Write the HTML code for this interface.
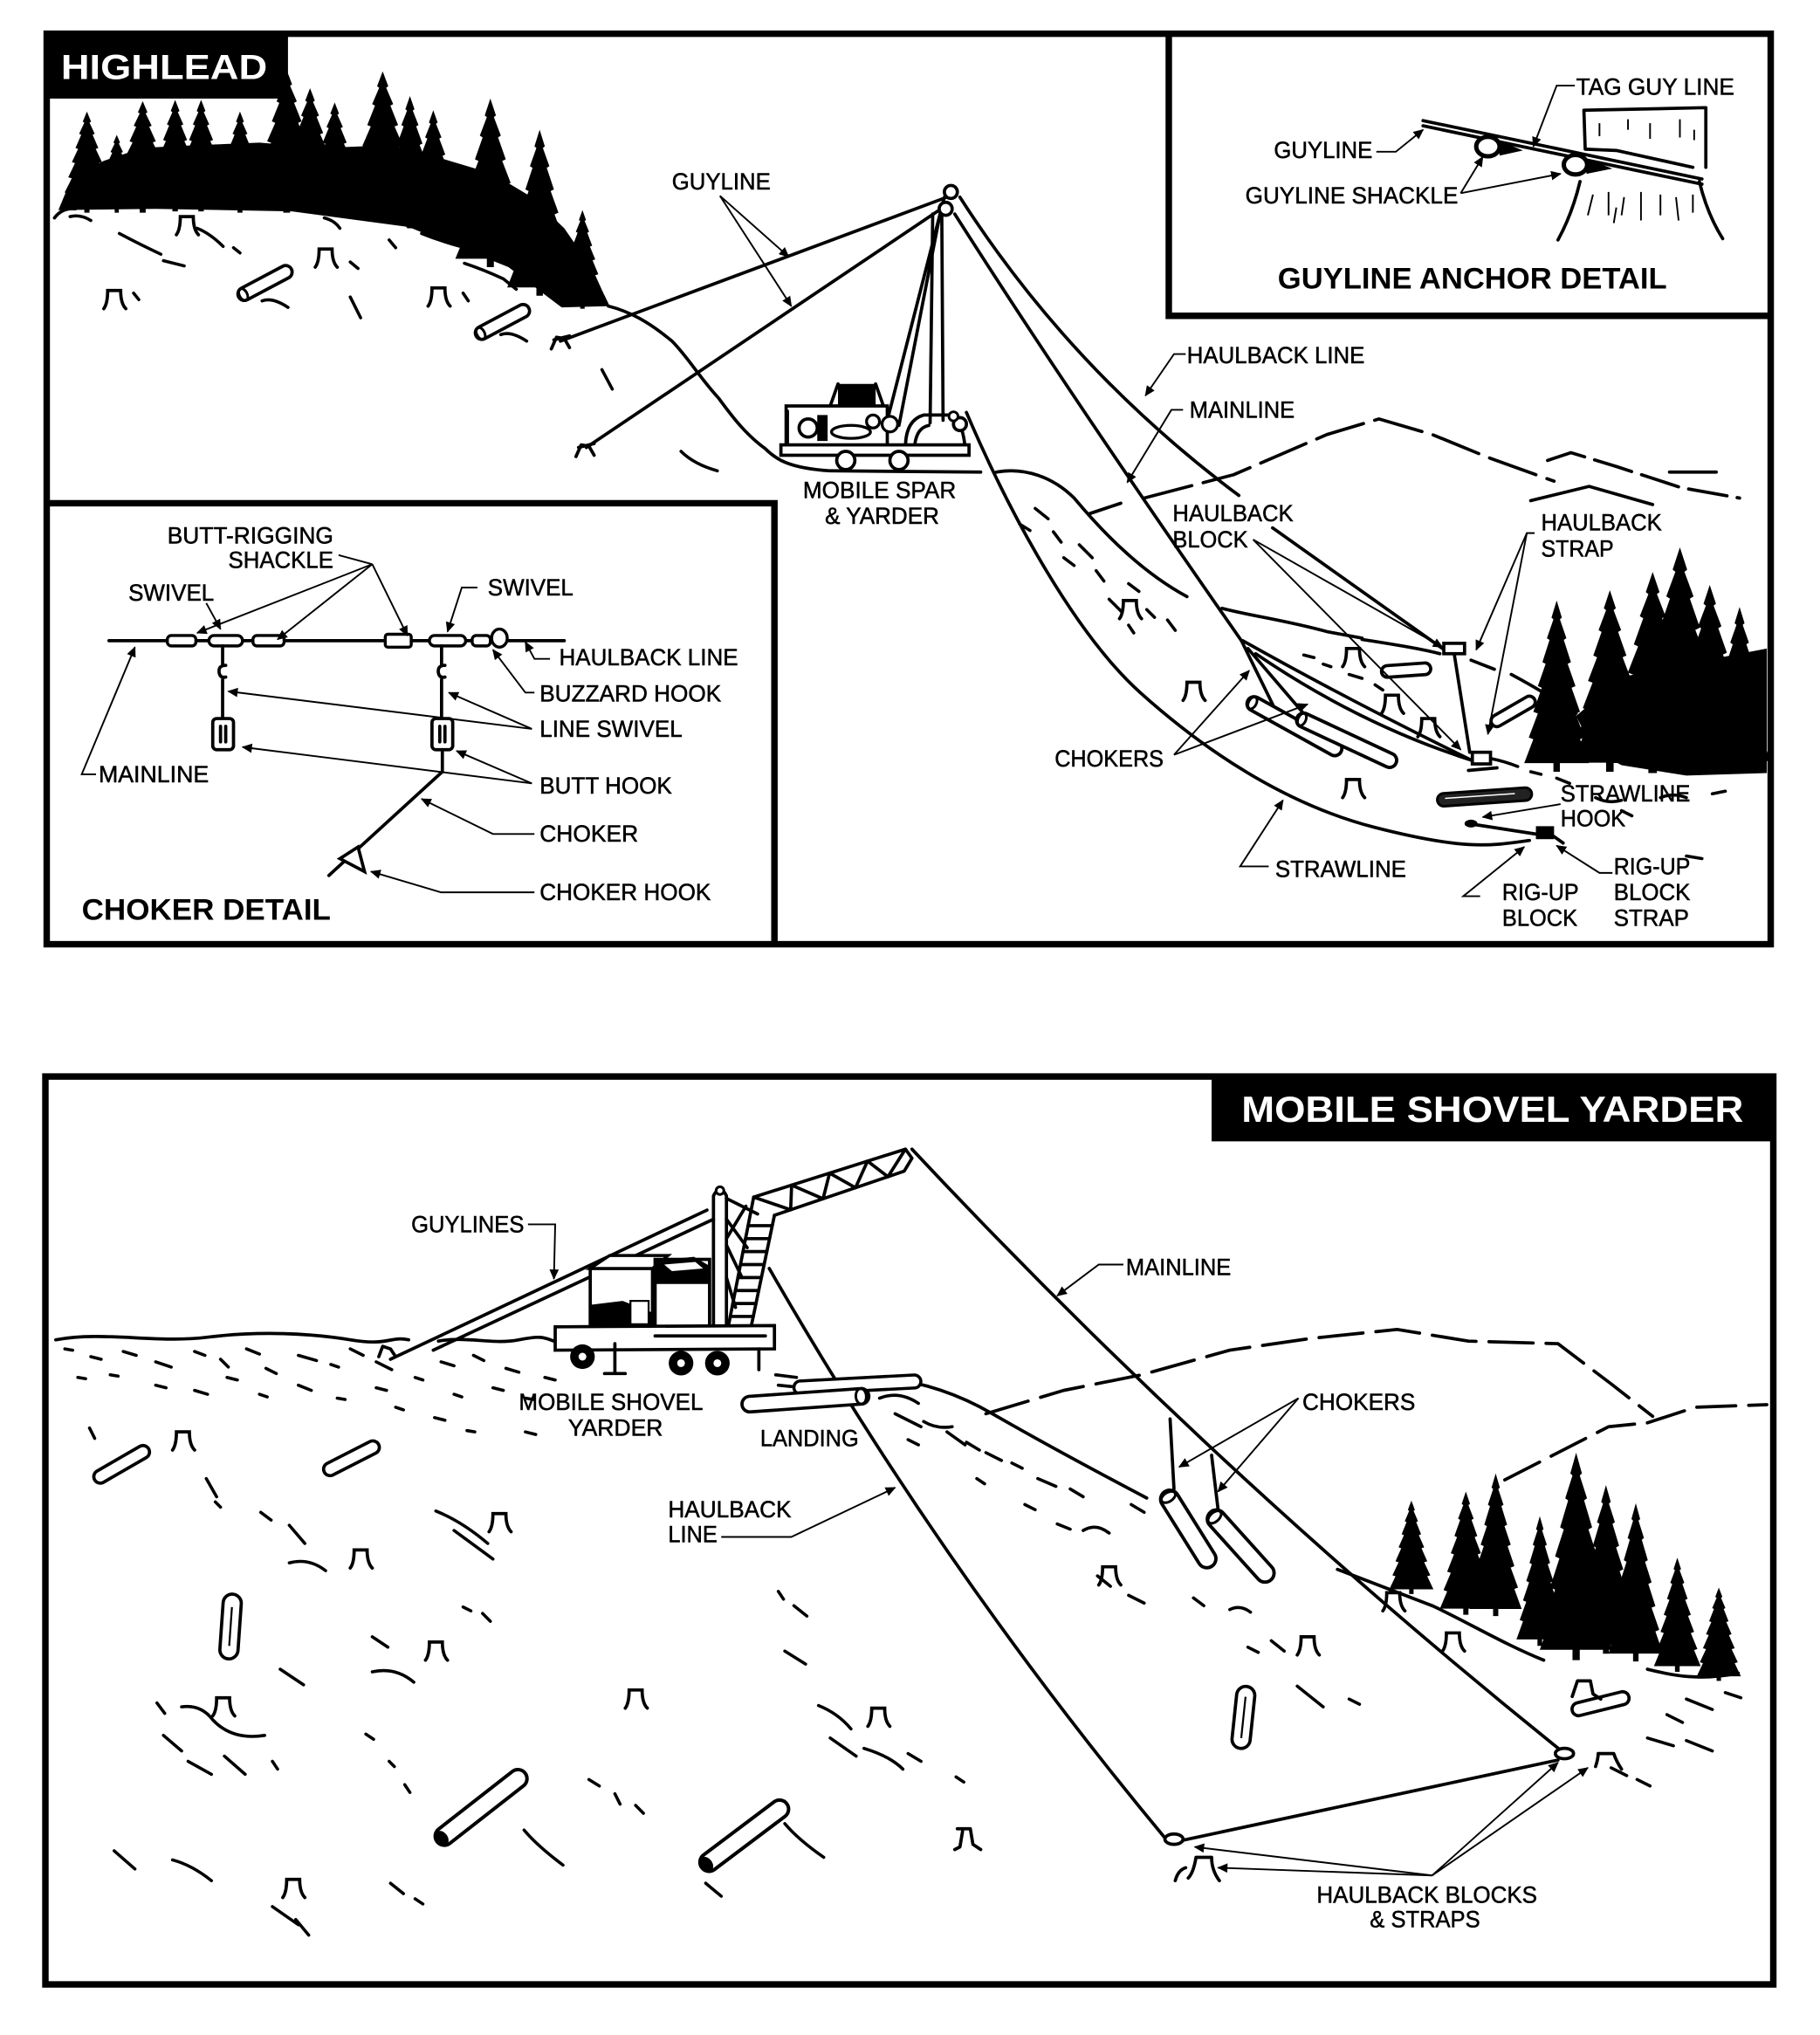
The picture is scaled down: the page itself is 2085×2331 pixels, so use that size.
<!DOCTYPE html>
<html><head><meta charset="utf-8">
<style>
html,body{margin:0;padding:0;background:#fff;}
svg{display:block;}
.t{font-family:"Liberation Sans",Arial,sans-serif;font-size:18px;fill:#000;stroke:#000;stroke-width:0.35;}
.b{font-family:"Liberation Sans",Arial,sans-serif;font-weight:bold;fill:#000;}
.w{font-family:"Liberation Sans",Arial,sans-serif;font-weight:bold;fill:#fff;}
.ln{fill:none;stroke:#000;stroke-linecap:round;stroke-linejoin:round;stroke-width:2.5;}
.th{fill:none;stroke:#000;stroke-width:1.3;}
.d{fill:none;stroke:#000;stroke-width:2.4;stroke-linecap:round;}
</style></head><body>
<svg width="2085" height="2331" viewBox="0 0 1403 1569" preserveAspectRatio="none" xmlns="http://www.w3.org/2000/svg">
<defs>
<marker id="a" viewBox="0 0 10 10" refX="9" refY="5" markerWidth="9" markerHeight="8" markerUnits="userSpaceOnUse" orient="auto"><path d="M0,0.5 L10,5 L0,9.5 Z" fill="#000"/></marker>
<path id="t" d="M0,0 L.08,.1 L.05,.11 L.15,.22 L.11,.23 L.22,.36 L.17,.37 L.29,.5 L.23,.51 L.36,.65 L.29,.66 L.43,.8 L.36,.81 L.5,.95 L.05,.95 L.05,1 L-.05,1 L-.05,.95 L-.5,.95 L-.36,.81 L-.43,.8 L-.29,.66 L-.36,.65 L-.23,.51 L-.29,.5 L-.17,.37 L-.22,.36 L-.11,.23 L-.15,.22 L-.05,.11 L-.08,.1 Z" fill="#000"/>
<path id="s" d="M-8,14 Q-5,10 -5,0 L5,0 Q5,10 9,14" fill="none" stroke="#000" stroke-width="2.5" stroke-linecap="round"/>
</defs>

<!-- ================= TOP PANEL ================= -->
<!-- top-left forest -->
<polygon points="45,162 55,138 80,124 110,114 150,112 200,110 250,114 300,112 340,122 380,134 410,152 435,176 455,205 470,236 433,237 392,206 315,175 225,163 120,161" fill="#000"/>
<use href="#t" transform="translate(67,86) scale(40,78)"/>
<use href="#t" transform="translate(90,104) scale(32,60)"/>
<use href="#t" transform="translate(110,78) scale(46,86)"/>
<use href="#t" transform="translate(135,77) scale(42,86)"/>
<use href="#t" transform="translate(155,77) scale(42,86)"/>
<use href="#t" transform="translate(185,86) scale(38,78)"/>
<use href="#t" transform="translate(221,54) scale(52,110)"/>
<use href="#t" transform="translate(239,68) scale(46,96)"/>
<use href="#t" transform="translate(258,79) scale(42,86)"/>
<use href="#t" transform="translate(295,55) scale(54,115)"/>
<use href="#t" transform="translate(316,74) scale(44,102)"/>
<use href="#t" transform="translate(334,85) scale(42,95)"/>
<use href="#t" transform="translate(378,76) scale(54,130)"/>
<use href="#t" transform="translate(416,100) scale(50,128)"/>
<use href="#t" transform="translate(449,162) scale(34,76)"/>

<!-- hill outline -->
<path class="ln" d="M42,168 Q48,160 58,161"/>
<path class="ln" d="M469,236 C485,240 500,248 518,263 C530,275 540,292 554,307 C565,322 575,335 590,346 C598,354 608,361 640,363 L756,364"/>
<!-- top-left hill dashes -->
<path class="d" d="M54,167 q8,-2 16,3 M92,180 q15,8 32,16 M126,201 q8,2 16,4 M180,191 l5,4 M250,168 q8,2 12,8 M270,202 l6,5 M270,229 l8,16 M325,180 q15,6 30,10 M358,203 q15,5 30,12 M388,215 l10,8 M464,285 l8,15 M525,348 q10,10 28,15 M202,232 q8,-3 20,5 M386,258 q8,-3 20,5 M152,176 q10,4 20,14 M103,226 l4,5 M357,226 l4,6 M300,185 l5,6"/>
<use href="#s" x="88" y="224"/>
<use href="#s" x="251" y="192"/>
<use href="#s" x="338" y="222"/>
<use href="#s" x="144" y="167"/>
<!-- logs top-left -->
<g transform="translate(184,229) rotate(-28)"><rect x="0" y="-5" width="46" height="10" rx="5" fill="#fff" stroke="#000" stroke-width="2.5"/><ellipse cx="4" cy="0" rx="3" ry="5" fill="none" stroke="#000" stroke-width="2"/></g>
<g transform="translate(367,259) rotate(-28)"><rect x="0" y="-5" width="46" height="10" rx="5" fill="#fff" stroke="#000" stroke-width="2.5"/><ellipse cx="4" cy="0" rx="3" ry="5" fill="none" stroke="#000" stroke-width="2"/></g>
<!-- guyline anchors -->
<path class="ln" d="M425,269 l4,-9 l6,1 l4,7 M427,262 l12,-3"/>
<path class="ln" d="M444,352 l4,-9 l6,1 l4,7 M446,345 l12,-3"/>

<!-- guylines -->
<path class="ln" stroke-width="3" d="M730,152 L432,263"/>
<path class="ln" stroke-width="3" d="M727,160 L452,345"/>

<!-- spar -->
<path class="ln" d="M728,152 L683,328 M726,158 L693,328"/>
<path class="ln" d="M719,165 L717,326 M726,165 L727,324"/>
<circle cx="733" cy="148" r="5" fill="#fff" stroke="#000" stroke-width="2.5"/>
<circle cx="729" cy="161" r="5" fill="#fff" stroke="#000" stroke-width="2.5"/>
<!-- yarder -->
<rect x="646" y="296" width="29" height="16" fill="#000"/>
<path class="ln" d="M640,313 L646,296 M675,296 L681,313"/>
<rect x="606" y="313" width="78" height="32" fill="#fff" stroke="#000" stroke-width="2.5"/>
<path class="ln" stroke-width="3.5" d="M607,345 V317"/>
<circle cx="623" cy="330" r="7" fill="#fff" stroke="#000" stroke-width="2.5"/>
<rect x="630" y="320" width="8" height="20" fill="#000"/>
<ellipse cx="656" cy="333" rx="15" ry="5" fill="#fff" stroke="#000" stroke-width="2.2"/>
<circle cx="673" cy="325" r="5" fill="#fff" stroke="#000" stroke-width="2.2"/>
<circle cx="686" cy="327" r="6" fill="#fff" stroke="#000" stroke-width="2.2"/>
<path class="ln" d="M698,345 Q698,324 712,320 H733 Q742,324 744,345"/>
<path class="ln" d="M705,345 Q706,330 716,328"/>
<rect x="602" y="343" width="145" height="8" fill="#fff" stroke="#000" stroke-width="2.5"/>
<circle cx="652" cy="355" r="7" fill="#fff" stroke="#000" stroke-width="2.5"/>
<circle cx="693" cy="355" r="7" fill="#fff" stroke="#000" stroke-width="2.5"/>
<circle cx="740" cy="327" r="5" fill="#fff" stroke="#000" stroke-width="2.5"/>
<circle cx="735" cy="321" r="3.5" fill="#fff" stroke="#000" stroke-width="2"/>

<!-- mainline / haulback / strawline -->
<path class="ln" stroke-width="2.6" d="M736,165 Q825,305 957,494"/>
<path class="ln" stroke-width="2.6" d="M740,152 Q825,285 955,382"/>
<path class="ln" stroke-width="2.6" d="M981,407 L1112,500"/>
<path class="ln" stroke-width="2.6" d="M958,494 Q1040,540 1134,586"/>
<path class="ln" stroke-width="2.4" d="M968,504 Q1050,560 1140,588"/>
<path class="ln" stroke-width="2.6" d="M745,318 C780,400 830,490 879,534 S990,620 1060,638 S1150,652 1179,648"/>
<path class="ln" stroke-width="2.6" d="M957,494 L983,547 M962,500 L1010,556"/>
<path class="ln" stroke-width="2.6" d="M1121,504 L1133,580"/>
<rect x="1113" y="496" width="16" height="8" fill="#fff" stroke="#000" stroke-width="2.5"/>
<rect x="1135" y="580" width="14" height="9" fill="#fff" stroke="#000" stroke-width="2.5"/>
<path class="ln" d="M1132,594 L1154,592"/>
<!-- choker logs -->
<g transform="translate(962,540) rotate(29)"><rect x="0" y="-5.5" width="82" height="11" rx="5.5" fill="#fff" stroke="#000" stroke-width="2.6"/><ellipse cx="4" cy="0" rx="3" ry="5" fill="none" stroke="#000" stroke-width="2"/></g>
<g transform="translate(1000,553) rotate(25)"><rect x="0" y="-5.5" width="84" height="11" rx="5.5" fill="#fff" stroke="#000" stroke-width="2.6"/><ellipse cx="4" cy="0" rx="3" ry="5" fill="none" stroke="#000" stroke-width="2"/></g>
<!-- other logs right -->
<g transform="translate(1065,518) rotate(-4)"><rect x="0" y="-4.5" width="38" height="9" rx="4.5" fill="#fff" stroke="#000" stroke-width="2.5"/></g>
<g transform="translate(1150,558) rotate(-30)"><rect x="0" y="-4.5" width="38" height="9" rx="4.5" fill="#fff" stroke="#000" stroke-width="2.5"/></g>
<g transform="translate(1108,617) rotate(-4)"><rect x="0" y="-5" width="73" height="10" rx="5" fill="#222" stroke="#000" stroke-width="2"/><path d="M6,-1 H60" stroke="#fff" stroke-width="1"/></g>
<!-- strawline hook & rig-up block -->
<path class="ln" stroke-width="3" d="M1132,635 L1190,644"/>
<ellipse cx="1134" cy="635" rx="5" ry="3" fill="#000"/>
<rect x="1184" y="637" width="14" height="10" fill="#000"/>
<path class="ln" d="M1198,645 L1205,650"/>

<!-- mound & mountains -->
<path class="ln" d="M768,364 C790,360 812,368 828,384 C848,408 878,440 915,460"/>
<path class="d" d="M798,392 l10,8 M786,404 l8,5 M812,410 l6,8 M832,420 l10,10 M820,430 l8,6 M845,440 l6,8 M870,450 l8,6 M855,462 l10,10 M884,470 l6,6 M900,478 l6,8 M870,482 l4,6"/>
<use href="#s" x="871" y="463"/>
<use href="#s" x="920" y="526"/>
<path class="ln" d="M942,469 C965,475 990,478 1023,487 L1050,492"/>
<path class="ln" d="M1050,493 C1075,497 1095,500 1110,504"/>
<path class="ln" d="M1134,509 L1152,516 M1165,520 C1180,528 1200,540 1215,550"/>
<path class="ln" stroke-dasharray="38,9" d="M840,396 L864,388 M882,384 L951,366 L1023,335 L1063,323 L1104,335 L1148,353 L1198,371"/>
<path class="ln" stroke-dasharray="30,8" d="M1193,355 L1211,349 L1247,360 L1296,376 L1341,384"/>
<path class="ln" d="M1180,386 L1225,375 L1274,389 M1287,364 L1323,364"/>
<path class="d" d="M1005,505 l8,2 M1020,512 l6,2 M1040,520 l10,3 M1060,528 l6,4 M1150,585 q10,2 20,6 M1180,595 l8,2 M1200,600 l10,4 M1230,615 q10,5 20,2 M1280,615 q10,-4 20,0 M1320,612 l10,-2 M1250,625 l8,4 M1300,660 l12,2 M1200,582 l6,4"/>
<use href="#s" x="1043" y="500"/>
<use href="#s" x="1073" y="536"/>
<use href="#s" x="1101" y="554"/>
<use href="#s" x="1043" y="601"/>
<path class="ln" d="M1193,557 q6,-12 14,-2 q6,4 2,12 M1205,560 l8,6"/>

<!-- right trees top -->
<polygon points="1215,552 1250,522 1300,512 1362,500 1362,596 1300,598 1250,590 1228,578" fill="#000"/>
<use href="#t" transform="translate(1200,463) scale(50,132)"/>
<use href="#t" transform="translate(1241,455) scale(58,140)"/>
<use href="#t" transform="translate(1274,441) scale(66,155)"/>
<use href="#t" transform="translate(1295,422) scale(70,172)"/>
<use href="#t" transform="translate(1318,451) scale(60,145)"/>
<use href="#t" transform="translate(1341,468) scale(48,125)"/>

<!-- ============ GUYLINE ANCHOR DETAIL ============ -->
<rect x="903" y="28" width="460" height="213" fill="#fff"/>
<path class="ln" stroke-width="1.6" d="M1097,93 L1312,138 M1097,97 L1312,142"/>
<ellipse cx="1147" cy="113" rx="9" ry="7.5" fill="#fff" stroke="#000" stroke-width="3.4"/>
<polygon points="1155,108 1174,116 1156,120" fill="#000"/>
<ellipse cx="1214.5" cy="127" rx="9" ry="7.5" fill="#fff" stroke="#000" stroke-width="3.4"/>
<polygon points="1222,122 1243,130 1223,134" fill="#000"/>
<path class="ln" stroke-width="2.6" d="M1221,85 L1315,83 L1315,129 M1221,85 L1222,115 L1246,116 L1305,129"/>
<path class="ln" d="M1218,140 Q1212,165 1201,185 M1310,140 Q1316,165 1328,184"/>
<path class="th" stroke-width="1.5" d="M1233,95 v10 M1255,92 v8 M1272,95 v12 M1295,92 v14 M1306,100 v8 M1228,150 l-4,16 M1240,148 v18 M1252,152 l-2,14 M1265,148 v22 M1280,150 v16 M1292,152 l2,18 M1305,150 v14 M1246,160 l-2,12"/>

<!-- ============ CHOKER DETAIL ============ -->
<rect x="39" y="391" width="555" height="334" fill="#fff"/>
<path class="ln" d="M84,494 H435"/>
<rect x="129" y="490" width="22" height="8" rx="3" fill="#fff" stroke="#000" stroke-width="2.3"/>
<rect x="161" y="490" width="26" height="8" rx="4" fill="#fff" stroke="#000" stroke-width="2.3"/>
<rect x="195" y="490" width="24" height="8" rx="3" fill="#fff" stroke="#000" stroke-width="2.3"/>
<rect x="297" y="489" width="20" height="10" rx="2" fill="#fff" stroke="#000" stroke-width="2.3"/>
<rect x="331" y="490" width="28" height="8" rx="4" fill="#fff" stroke="#000" stroke-width="2.3"/>
<rect x="364" y="490" width="14" height="8" rx="3" fill="#fff" stroke="#000" stroke-width="2.3"/>
<ellipse cx="385" cy="492" rx="6" ry="7" fill="#fff" stroke="#000" stroke-width="2.3"/>
<path class="ln" stroke-width="2.2" d="M171.6,498 V512 M171.6,524 V554 M340.4,498 V512 M340.4,524 V554"/>
<path class="ln" stroke-width="2.2" d="M174,513 q-6,0 -5,6 q1,4 5,3 M343,513 q-6,0 -5,6 q1,4 5,3"/>
<rect x="164" y="554" width="16" height="24" rx="3" fill="#fff" stroke="#000" stroke-width="2.5"/>
<path class="ln" stroke-width="2" d="M170,560 v12 M174,560 v12"/>
<rect x="333" y="554" width="16" height="24" rx="3" fill="#fff" stroke="#000" stroke-width="2.5"/>
<path class="ln" stroke-width="2" d="M339,560 v12 M343,560 v12"/>
<path class="ln" d="M341,578 V595 L253.5,675"/>
<polygon points="262,662 276,653 281,672" fill="#fff" stroke="#000" stroke-width="2.5"/>

<!-- ================= BOTTOM PANEL ================= -->
<!-- horizon & ground -->
<path class="ln" d="M43,1033 C80,1026 120,1036 160,1031 S240,1028 270,1033 S300,1030 315,1033"/>
<path class="ln" d="M338,1034 C360,1030 380,1037 400,1033 S420,1032 430,1035"/>
<path class="d" d="M50,1040 l6,1 M70,1046 l8,2 M95,1042 l10,3 M120,1050 l12,4 M150,1042 l8,3 M170,1048 l6,6 M190,1040 l10,4 M205,1055 l8,4 M230,1045 l14,4 M255,1052 l6,2 M270,1040 l10,5 M290,1050 l12,6 M60,1062 l6,1 M85,1060 l6,1 M120,1068 l8,2 M150,1072 l10,3 M175,1062 l8,2 M200,1075 l6,2 M230,1068 l10,4 M260,1078 l6,1 M290,1070 l8,2 M320,1062 l6,2 M340,1050 l10,3 M365,1045 l8,4 M390,1055 l10,3 M350,1075 l6,2 M380,1070 l8,2 M405,1078 l6,1 M420,1062 l8,2 M305,1085 l6,2 M335,1093 l8,2 M360,1103 l6,1 M405,1104 l8,2"/>
<path class="d" d="M69,1101 l4,8 M159,1140 l8,14 M166,1158 l4,4 M201,1166 l8,6 M223,1176 l12,14 M223,1205 q15,-4 28,6 M336,1165 q20,8 40,25 M350,1180 l30,22 M600,1227 l4,6 M612,1238 l10,8 M357,1239 l6,3 M372,1244 l6,6 M287,1262 l12,8 M287,1289 q18,-4 32,8 M216,1287 l18,12 M121,1313 l6,8 M140,1316 q15,-2 24,10 q15,16 40,12 M126,1338 l14,12 M145,1358 l18,10 M173,1354 l16,14 M210,1358 l4,6 M282,1337 l6,4 M300,1358 l4,4 M312,1376 l4,6 M404,1411 q10,12 30,27 M454,1372 l8,5 M474,1383 l4,8 M490,1392 l6,6 M605,1406 q10,12 30,26 M631,1315 q15,6 25,18 M640,1340 l20,14 M666,1348 q20,6 30,16 M700,1352 l10,6 M88,1427 l16,14 M133,1434 q15,4 30,16 M544,1452 l12,10 M301,1452 l10,8 M320,1464 l6,4 M605,1273 l16,10 M737,1370 l6,4 M210,1470 l20,14 M228,1480 l10,12 M753,1140 l6,4"/>
<use href="#s" x="141" y="1104"/>
<use href="#s" x="278" y="1195"/>
<use href="#s" x="385" y="1167"/>
<use href="#s" x="336" y="1266"/>
<use href="#s" x="172" y="1309"/>
<use href="#s" x="490" y="1303"/>
<use href="#s" x="677" y="1317"/>
<use href="#s" x="226" y="1449"/>
<path class="ln" d="M738,1410 h10 l2,12 l6,4 M742,1412 l-2,12 l-4,2"/>

<!-- bottom logs -->
<g transform="translate(73,1141) rotate(-30)"><rect x="0" y="-5" width="48" height="10" rx="5" fill="#fff" stroke="#000" stroke-width="2.5"/></g>
<g transform="translate(250,1135) rotate(-27)"><rect x="0" y="-5" width="47" height="10" rx="5" fill="#fff" stroke="#000" stroke-width="2.5"/></g>
<g transform="translate(176,1279) rotate(-86)"><rect x="0" y="-7" width="50" height="14" rx="7" fill="#fff" stroke="#000" stroke-width="2.5"/><path d="M10,0 H40" stroke="#000" stroke-width="1.5"/></g>
<g transform="translate(337,1420) rotate(-38)"><rect x="0" y="-7" width="86" height="14" rx="7" fill="#fff" stroke="#000" stroke-width="2.7"/><ellipse cx="5" cy="0" rx="4" ry="6" fill="#000"/></g>
<g transform="translate(541,1440) rotate(-37)"><rect x="0" y="-7" width="82" height="14" rx="7" fill="#fff" stroke="#000" stroke-width="2.7"/><ellipse cx="5" cy="0" rx="4" ry="6" fill="#000"/></g>
<g transform="translate(956,1348) rotate(-84)"><rect x="0" y="-7" width="48" height="14" rx="7" fill="#fff" stroke="#000" stroke-width="2.5"/><path d="M8,0 H40" stroke="#000" stroke-width="1.5"/></g>
<g transform="translate(1212,1319) rotate(-14)"><rect x="0" y="-5" width="45" height="10" rx="5" fill="#fff" stroke="#000" stroke-width="2.5"/></g>
<path class="ln" d="M1212,1308 l4,-12 h10 l2,10 l6,4"/>

<!-- landing hill right of crane -->
<path class="ln" d="M672,1062 Q720,1064 765,1090 T884,1155"/>
<path class="d" d="M640,1068 l20,-4 M678,1078 q15,-6 30,4 M690,1090 l20,10 M712,1096 q10,6 22,4 M730,1104 l14,10 M700,1110 l8,4 M745,1112 l10,6 M760,1120 l12,6 M780,1128 l8,4 M800,1140 l14,6 M790,1160 l8,4 M825,1148 l10,6 M815,1175 l10,4 M835,1180 q10,-6 20,2 M872,1160 l10,6 M846,1215 l10,8 M870,1230 l12,6 M920,1232 l8,6 M948,1241 q8,-4 16,2 M962,1270 l8,4 M980,1265 l10,8 M1000,1300 l20,16 M1040,1310 l8,4"/>
<use href="#s" x="855" y="1208"/>
<use href="#s" x="1008" y="1262"/>
<use href="#s" x="1074" y="1228"/>
<use href="#s" x="1120" y="1259"/>
<path class="ln" d="M1031,1210 L1104,1238"/>
<path class="ln" d="M1104,1238 C1130,1250 1160,1268 1190,1280"/>
<path class="d" d="M1242,1363 l12,6 M1262,1372 l10,5 M1270,1340 l20,6 M1300,1342 l20,8 M1300,1310 l20,8 M1330,1305 l12,4 M1285,1322 l12,6"/>

<!-- mountains bottom -->
<path class="ln" stroke-dasharray="34,10" d="M760,1090 L820,1072 L880,1060 L948,1041 L1010,1032 L1077,1025 L1132,1034 L1201,1036 L1242,1067 L1274,1092"/>
<path class="ln" stroke-dasharray="30,10" d="M1160,1141 Q1205,1118 1240,1100 L1270,1097 L1307,1085 L1362,1083"/>

<!-- bottom trees -->
<use href="#t" transform="translate(1088,1157) scale(34,72)"/>
<use href="#t" transform="translate(1130,1150) scale(40,95)"/>
<use href="#t" transform="translate(1153,1136) scale(40,110)"/>
<use href="#t" transform="translate(1187,1169) scale(36,100)"/>
<use href="#t" transform="translate(1215,1120) scale(56,160)"/>
<use href="#t" transform="translate(1238,1145) scale(46,130)"/>
<use href="#t" transform="translate(1261,1159) scale(42,122)"/>
<use href="#t" transform="translate(1293,1201) scale(36,88)"/>
<use href="#t" transform="translate(1325,1224) scale(34,72)"/>
<path class="ln" d="M1270,1287 C1290,1292 1310,1296 1340,1290"/>

<!-- mainline / haulback / block line -->
<path class="ln" stroke-width="2.6" d="M703,886 Q937,1136 1205,1351"/>
<path class="ln" stroke-width="2.6" d="M593,978 Q726,1210 898,1417"/>
<path class="ln" stroke-width="3.4" d="M911,1419 L1201,1357"/>
<ellipse cx="905" cy="1418" rx="7" ry="4" fill="#fff" stroke="#000" stroke-width="2.5"/>
<path class="ln" d="M916,1448 q4,-4 6,-16 h12 q0,10 6,18 M914,1440 q-6,2 -8,10"/>
<ellipse cx="1206" cy="1352" rx="7" ry="4" fill="#fff" stroke="#000" stroke-width="2.5"/>
<path class="ln" d="M1230,1362 q2,-6 2,-10 h12 q2,6 6,12"/>
<!-- chokers -->
<path class="ln" stroke-width="2.2" d="M902,1094 L905,1148 M934,1122 L939,1164"/>
<g transform="translate(898,1150) rotate(58)"><rect x="0" y="-7" width="68" height="14" rx="7" fill="#fff" stroke="#000" stroke-width="2.6"/><ellipse cx="5" cy="0" rx="3.5" ry="6" fill="none" stroke="#000" stroke-width="2"/></g>
<g transform="translate(933,1166) rotate(48)"><rect x="0" y="-7" width="70" height="14" rx="7" fill="#fff" stroke="#000" stroke-width="2.6"/><ellipse cx="5" cy="0" rx="3.5" ry="6" fill="none" stroke="#000" stroke-width="2"/></g>

<!-- crane -->
<path class="ln" stroke-width="3.2" d="M545,933 L301,1048"/>
<path class="ln" stroke-width="2.6" d="M550,940 L334,1041"/>
<path class="ln" d="M292,1046 l3,-8 l6,2 l4,6"/>
<!-- boom upper section -->
<path class="ln" stroke-width="2.8" d="M581,923 L698,886 L703,893 L697,903 L597,937"/>
<path class="ln" stroke-width="2" d="M581,923 L609.5,932.75 L610.25,913.75 L634.5,924.25 L639.5,904.5 L659.5,915.75 L668.75,895.25 L684.5,907.25 L698,886"/>
<!-- boom ladder -->
<path class="ln" stroke-width="2.6" d="M581,923 L561,1025 M597,937 L579,1023"/>
<path class="ln" stroke-width="2" d="M576.7,945 H595.3 M574.7,955 H593.2 M572.8,965 H591.1 M570.8,975 H589 M568.8,985 H586.9 M566.9,995 H584.9 M564.9,1005 H582.8 M563,1015 H580.7"/>
<path class="ln" stroke-width="1.8" d="M560,924 L584,936 M560,940 L576,962 M560,960 L572,985 M560,985 L567,1008 M575,930 L560,955"/>
<!-- mast -->
<path class="ln" stroke-width="2.6" fill="#fff" d="M550,1028 V922 Q555,912 560,922 V1028"/>
<circle cx="555" cy="918" r="3" fill="#fff" stroke="#000" stroke-width="2"/>
<!-- boxes -->
<rect x="455" y="978" width="48" height="47" fill="#fff" stroke="#000" stroke-width="2.5"/>
<polygon points="455,978 470,968 515,968 503,978" fill="#fff" stroke="#000" stroke-width="2.3"/>
<polygon points="455,1006 480,1003 503,1012 503,1024 455,1024" fill="#000"/>
<rect x="486" y="1003" width="14" height="18" fill="#fff" stroke="#000" stroke-width="1.5"/>
<rect x="505" y="971" width="42" height="63" fill="#fff" stroke="#000" stroke-width="2.5"/>
<polygon points="505,972 535,969 547,976 547,990 505,990" fill="#000"/>
<polygon points="512,975 536,973 542,978 518,980" fill="#fff"/>
<polygon points="428,1023 597,1022 597,1040 428,1041" fill="#fff" stroke="#000" stroke-width="2.5"/>
<path class="ln" stroke-width="2" d="M505,1030 L590,1030"/>
<circle cx="449" cy="1046" r="9.5" fill="#000"/>
<circle cx="449" cy="1046" r="3" fill="#fff"/>
<circle cx="525" cy="1051" r="9.5" fill="#000"/>
<circle cx="525" cy="1051" r="3" fill="#fff"/>
<circle cx="553" cy="1051" r="9.5" fill="#000"/>
<circle cx="553" cy="1051" r="3" fill="#fff"/>
<path class="ln" stroke-width="3" d="M474,1036 L474,1058 M466,1059 h16 M585,1040 v16"/>
<!-- landing logs -->
<g transform="translate(612,1070) rotate(-3)"><rect x="0" y="-5" width="98" height="10" rx="5" fill="#fff" stroke="#000" stroke-width="2.4"/></g>
<g transform="translate(572,1083) rotate(-4)"><rect x="0" y="-6" width="98" height="12" rx="6" fill="#fff" stroke="#000" stroke-width="2.5"/><ellipse cx="92" cy="0" rx="4" ry="6" fill="none" stroke="#000" stroke-width="2"/></g>
<path class="d" d="M598,1060 l16,2 M600,1068 l10,1"/>

<!-- ================= FRAMES & TITLES ================= -->
<rect x="36" y="26" width="1329" height="702" fill="none" stroke="#000" stroke-width="5"/>
<path d="M901,26 V243.5 H1365" fill="none" stroke="#000" stroke-width="5"/>
<path d="M36,388 H597 V728" fill="none" stroke="#000" stroke-width="5"/>
<rect x="34" y="24" width="188" height="52" fill="#000"/>
<text class="w" x="47" y="61" font-size="27" textLength="159" lengthAdjust="spacingAndGlyphs">HIGHLEAD</text>

<rect x="35" y="830" width="1332" height="700" fill="none" stroke="#000" stroke-width="5"/>
<rect x="934" y="828" width="435" height="52" fill="#000"/>
<text class="w" x="957" y="865" font-size="28" textLength="387" lengthAdjust="spacingAndGlyphs">MOBILE SHOVEL YARDER</text>

<!-- ================= LABELS & LEADERS ================= -->
<g class="th" marker-end="url(#a)">
<!-- top -->
<path d="M555,151 L608,198"/>
<path d="M555,151 L610,236"/>
<path d="M914,273 H905 L883,305"/>
<path d="M912,316 H903 L869,372"/>
<path d="M966,416 L1112,499"/>
<path d="M966,416 L1126,578"/>
<path d="M1183,411 H1177 L1138,501"/>
<path d="M1177,411 L1147,566"/>
<path d="M905,582 L963,517"/>
<path d="M905,582 L1008,543"/>
<path d="M978,668 H956 L989,617"/>
<path d="M1203,620 L1143,630"/>
<path d="M1141,691 H1128 L1175,653"/>
<path d="M1243,673 H1233 L1200,652"/>
<!-- anchor -->
<path d="M1214,66 H1200 L1182,113"/>
<path d="M1061,117 H1076 L1097,100"/>
<path d="M1126,149 L1143,121"/>
<path d="M1126,149 L1203,134"/>
<!-- choker detail -->
<path d="M287,435 L152,488"/>
<path d="M287,435 L214,493"/>
<path d="M287,435 L314,490"/>
<path d="M159,465 L170,485"/>
<path d="M368,453 H356 L345,487"/>
<path d="M424,508 H412 L405,495"/>
<path d="M412,534 H405 L380,501"/>
<path d="M410,562 L176,533"/>
<path d="M410,562 L346,534"/>
<path d="M74,597 H63 L104,499"/>
<path d="M410,604 L187,576"/>
<path d="M410,604 L352,579"/>
<path d="M412,643 H380 L325,616"/>
<path d="M412,688 H340 L286,672"/>
<!-- bottom -->
<path d="M407,944 H428 L427,986"/>
<path d="M866,975 H847 L815,999"/>
<path d="M1001,1078 L909,1131"/>
<path d="M1001,1078 L939,1150"/>
<path d="M556,1185 H610 L690,1147"/>
<path d="M1104,1446 L1201,1359"/>
<path d="M1104,1446 L1224,1363"/>
<path d="M1104,1446 L921,1424"/>
<path d="M1104,1446 L939,1440"/>
</g>
<path class="th" d="M261,428 L287,435"/>

<!-- top labels -->
<text class="t" x="518" y="146" textLength="76" lengthAdjust="spacingAndGlyphs">GUYLINE</text>
<text class="t" x="915" y="280" textLength="137" lengthAdjust="spacingAndGlyphs">HAULBACK LINE</text>
<text class="t" x="917" y="322" textLength="81" lengthAdjust="spacingAndGlyphs">MAINLINE</text>
<text class="t" x="619" y="384" textLength="118" lengthAdjust="spacingAndGlyphs">MOBILE SPAR</text>
<text class="t" x="636" y="404" textLength="88" lengthAdjust="spacingAndGlyphs">&amp; YARDER</text>
<text class="t" x="904" y="402" textLength="93" lengthAdjust="spacingAndGlyphs">HAULBACK</text>
<text class="t" x="904" y="422" textLength="58" lengthAdjust="spacingAndGlyphs">BLOCK</text>
<text class="t" x="1188" y="409" textLength="93" lengthAdjust="spacingAndGlyphs">HAULBACK</text>
<text class="t" x="1188" y="429" textLength="56" lengthAdjust="spacingAndGlyphs">STRAP</text>
<text class="t" x="813" y="591" textLength="84" lengthAdjust="spacingAndGlyphs">CHOKERS</text>
<text class="t" x="983" y="676" textLength="101" lengthAdjust="spacingAndGlyphs">STRAWLINE</text>
<text class="t" x="1203" y="618" textLength="100" lengthAdjust="spacingAndGlyphs">STRAWLINE</text>
<text class="t" x="1203" y="637" textLength="50" lengthAdjust="spacingAndGlyphs">HOOK</text>
<text class="t" x="1158" y="694" textLength="59" lengthAdjust="spacingAndGlyphs">RIG-UP</text>
<text class="t" x="1158" y="714" textLength="58" lengthAdjust="spacingAndGlyphs">BLOCK</text>
<text class="t" x="1244" y="674" textLength="59" lengthAdjust="spacingAndGlyphs">RIG-UP</text>
<text class="t" x="1244" y="694" textLength="59" lengthAdjust="spacingAndGlyphs">BLOCK</text>
<text class="t" x="1244" y="714" textLength="58" lengthAdjust="spacingAndGlyphs">STRAP</text>

<!-- anchor labels -->
<text class="t" x="1215" y="73" textLength="122" lengthAdjust="spacingAndGlyphs">TAG GUY LINE</text>
<text class="t" x="982" y="122" textLength="76" lengthAdjust="spacingAndGlyphs">GUYLINE</text>
<text class="t" x="960" y="157" textLength="164" lengthAdjust="spacingAndGlyphs">GUYLINE SHACKLE</text>
<text class="b" x="985" y="222.5" font-size="23" textLength="300" lengthAdjust="spacingAndGlyphs">GUYLINE ANCHOR DETAIL</text>

<!-- choker labels -->
<text class="t" x="129" y="419" textLength="128" lengthAdjust="spacingAndGlyphs">BUTT-RIGGING</text>
<text class="t" x="176" y="438" textLength="81" lengthAdjust="spacingAndGlyphs">SHACKLE</text>
<text class="t" x="99" y="463" textLength="66" lengthAdjust="spacingAndGlyphs">SWIVEL</text>
<text class="t" x="376" y="459" textLength="66" lengthAdjust="spacingAndGlyphs">SWIVEL</text>
<text class="t" x="431" y="513" textLength="138" lengthAdjust="spacingAndGlyphs">HAULBACK LINE</text>
<text class="t" x="416" y="541" textLength="140" lengthAdjust="spacingAndGlyphs">BUZZARD HOOK</text>
<text class="t" x="416" y="568" textLength="110" lengthAdjust="spacingAndGlyphs">LINE SWIVEL</text>
<text class="t" x="76" y="603" textLength="85" lengthAdjust="spacingAndGlyphs">MAINLINE</text>
<text class="t" x="416" y="612" textLength="102" lengthAdjust="spacingAndGlyphs">BUTT HOOK</text>
<text class="t" x="416" y="649" textLength="76" lengthAdjust="spacingAndGlyphs">CHOKER</text>
<text class="t" x="416" y="694" textLength="132" lengthAdjust="spacingAndGlyphs">CHOKER HOOK</text>
<text class="b" x="63" y="709" font-size="23" textLength="192" lengthAdjust="spacingAndGlyphs">CHOKER DETAIL</text>

<!-- bottom labels -->
<text class="t" x="317" y="950" textLength="87" lengthAdjust="spacingAndGlyphs">GUYLINES</text>
<text class="t" x="868" y="983" textLength="81" lengthAdjust="spacingAndGlyphs">MAINLINE</text>
<text class="t" x="1004" y="1087" textLength="87" lengthAdjust="spacingAndGlyphs">CHOKERS</text>
<text class="t" x="400" y="1087" textLength="142" lengthAdjust="spacingAndGlyphs">MOBILE SHOVEL</text>
<text class="t" x="438" y="1107" textLength="73" lengthAdjust="spacingAndGlyphs">YARDER</text>
<text class="t" x="586" y="1115" textLength="76" lengthAdjust="spacingAndGlyphs">LANDING</text>
<text class="t" x="515" y="1170" textLength="95" lengthAdjust="spacingAndGlyphs">HAULBACK</text>
<text class="t" x="515" y="1189" textLength="38" lengthAdjust="spacingAndGlyphs">LINE</text>
<text class="t" x="1015" y="1467" textLength="170" lengthAdjust="spacingAndGlyphs">HAULBACK BLOCKS</text>
<text class="t" x="1056" y="1486" textLength="85" lengthAdjust="spacingAndGlyphs">&amp; STRAPS</text>
</svg>
</body></html>
